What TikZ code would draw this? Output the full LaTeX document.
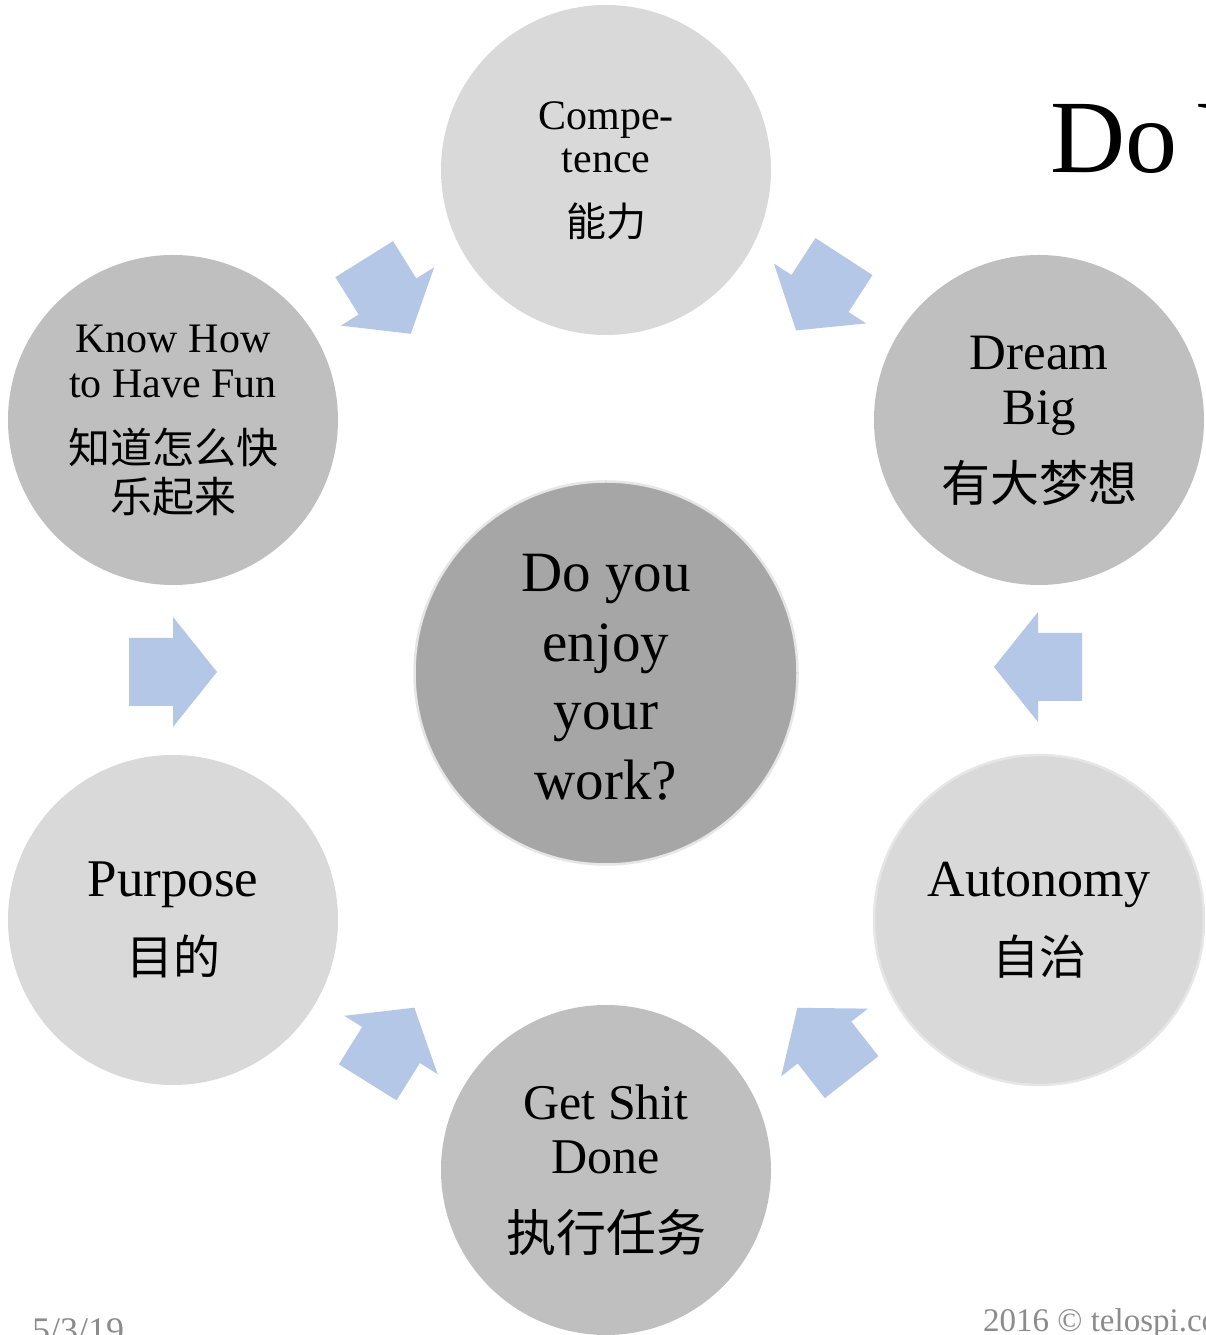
\documentclass[tikz,border=0pt]{standalone}
\usepackage{fontspec}
\setmainfont{Liberation Serif}
\newfontfamily\cjk{Noto Sans CJK SC}
\definecolor{lightc}{HTML}{D9D9D9}
\definecolor{midc}{HTML}{BFBFBF}
\definecolor{darkc}{HTML}{A6A6A6}
\definecolor{ringc}{HTML}{E6E6E6}
\definecolor{arrowc}{RGB}{180,199,231}
\definecolor{footc}{HTML}{8C8C8C}
\tikzset{
  bubble/.style={circle, minimum size=330pt, inner sep=0pt, draw=none},
  ring/.style={draw=ringc, line width=2.5pt},
  txt/.style={anchor=base, inner sep=0pt, text=black},
  blockarrow/.style={fill=arrowc, draw=none}
}
\newcommand{\blockarr}[3]{%
  \fill[blockarrow, shift={(#1,#2)}, rotate=#3]
    (-44,34) -- (0,34) -- (0,55) -- (44,0) -- (0,-55) -- (0,-34) -- (-44,-34) -- cycle;}
\begin{document}
\begin{tikzpicture}[x=1pt,y=1pt]
\useasboundingbox (0,0) rectangle (1205,1335);
\clip (0,0) rectangle (1205,1335);
\fill[white] (0,0) rectangle (1205,1335);

% circles
\node[bubble, fill=lightc] (comp) at (606,1165) {};
\node[bubble, fill=midc] (dream) at (1039,915) {};
\node[bubble, fill=lightc, ring] (auto) at (1039,415) {};
\node[bubble, fill=midc] (gsd) at (606,165) {};
\node[bubble, fill=lightc] (purp) at (173,415) {};
\node[bubble, fill=midc] (know) at (173,915) {};
\node[circle, minimum size=383pt, inner sep=0pt, fill=darkc, ring] (core) at (606,662) {};

% block arrows
\blockarr{387.5}{1038.5}{-58}
\blockarr{820}{1041.5}{-123}
\blockarr{824.5}{292.5}{128}
\blockarr{391}{290}{58}
\blockarr{173}{663}{0}
\blockarr{1038}{668}{180}

% texts: Competence
\node[txt, font=\fontsize{42}{42}\selectfont] (t1a) at (606,1205) {Compe-};
\node[txt, font=\fontsize{42}{42}\selectfont] (t1b) at (606,1162) {tence};
\node[txt, font=\cjk\fontsize{40}{40}\selectfont] (t1c) at (606,1098) {能力};
% Dream Big
\node[txt, font=\fontsize{51}{51}\selectfont] (t2a) at (1039,965) {Dream};
\node[txt, font=\fontsize{51}{51}\selectfont] (t2b) at (1039,910) {Big};
\node[txt, font=\cjk\fontsize{49}{49}\selectfont] (t2c) at (1039,833) {有大梦想};
% Know How
\node[txt, font=\fontsize{42}{42}\selectfont] (t3a) at (173,982) {Know How};
\node[txt, font=\fontsize{42}{42}\selectfont] (t3b) at (173,937) {to Have Fun};
\node[txt, font=\cjk\fontsize{42}{42}\selectfont] (t3c) at (173,871) {知道怎么快};
\node[txt, font=\cjk\fontsize{42}{42}\selectfont] (t3d) at (173,822) {乐起来};
% Center
\node[txt, font=\fontsize{57}{57}\selectfont] (t4a) at (606,743) {Do you};
\node[txt, font=\fontsize{57}{57}\selectfont] (t4b) at (606,673) {enjoy};
\node[txt, font=\fontsize{57}{57}\selectfont] (t4c) at (606,605) {your};
\node[txt, font=\fontsize{57}{57}\selectfont] (t4d) at (606,535) {work?};
% Purpose
\node[txt, font=\fontsize{53}{53}\selectfont] (t5a) at (173,438) {Purpose};
\node[txt, font=\cjk\fontsize{47}{47}\selectfont] (t5b) at (173,360) {目的};
% Autonomy
\node[txt, font=\fontsize{52}{52}\selectfont] (t6a) at (1039,438) {Autonomy};
\node[txt, font=\cjk\fontsize{47}{47}\selectfont] (t6b) at (1039,360) {自治};
% Get Shit Done
\node[txt, font=\fontsize{50}{50}\selectfont] (t7a) at (606,215) {Get Shit};
\node[txt, font=\fontsize{50}{50}\selectfont] (t7b) at (606,161) {Done};
\node[txt, font=\cjk\fontsize{50}{50}\selectfont] (t7c) at (606,83) {执行任务};

% title and footers
\node[anchor=base west, inner sep=0pt, font=\fontsize{104}{104}\selectfont] (title) at (1050,1162) {Do\hspace{20pt}Y};
\node[anchor=base west, inner sep=0pt, text=footc, font=\fontsize{36}{36}\selectfont] (date) at (32,-7) {5/3/19};
\node[anchor=base west, inner sep=0pt, text=footc, font=\fontsize{33}{33}\selectfont] (copy) at (983,4) {2016 © telospi.com};
\end{tikzpicture}
\end{document}
